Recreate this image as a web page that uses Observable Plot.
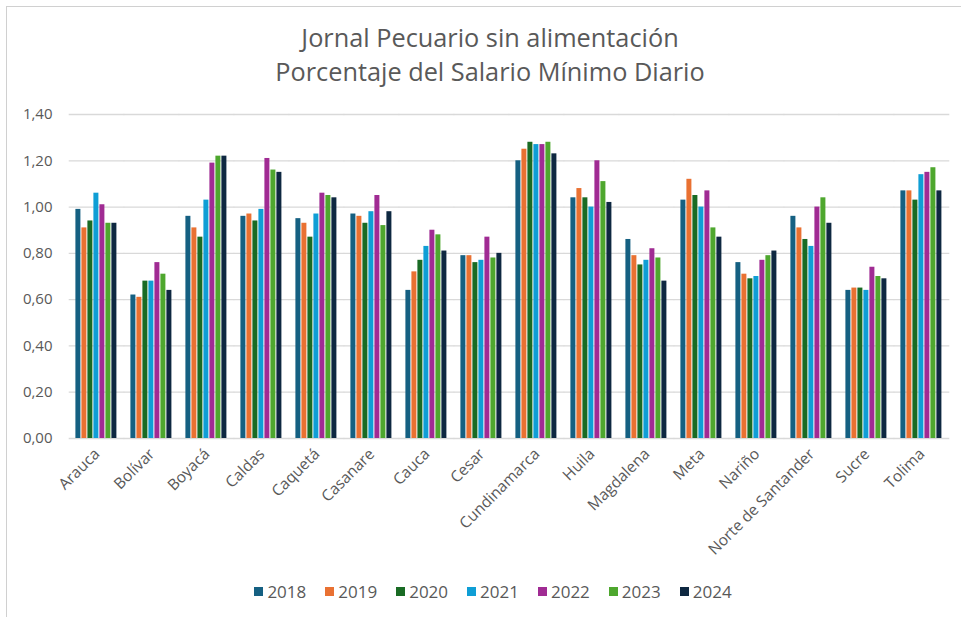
<!DOCTYPE html>
<html>
<head>
<meta charset="utf-8">
<script src="https://cdn.jsdelivr.net/npm/d3@7"></script>
<script src="https://cdn.jsdelivr.net/npm/@observablehq/plot@0.6"></script>
<style>
  html, body { margin: 0; padding: 0; background: #fff; }
  body { width: 961px; height: 617px; overflow: hidden; position: relative; font-family: "Open Sans", sans-serif; }
  #frame { position: absolute; left: 6px; top: 6px; width: 970px; height: 640px; border-left: 1.5px solid #d0d0d0; border-top: 1.5px solid #d0d0d0; }
  #title { position: absolute; left: 0; top: 20px; width: 980px; text-align: center; color: #595959; font-size: 25.3px; line-height: 34px; }
  #chart { position: absolute; left: 0; top: 95px; }
  #legend { position: absolute; left: 0; top: 580px; width: 986px; display: flex; justify-content: center; gap: 19px; color: #595959; font-size: 17px; }
  #legend span.item { display: inline-flex; align-items: center; }
  #legend span.sw { width: 9px; height: 9px; display: inline-block; margin-right: 4px; }
</style>
</head>
<body>
<div id="frame"></div>
<div id="title">Jornal Pecuario sin alimentación<br>Porcentaje del Salario Mínimo Diario</div>
<div id="chart"></div>
<div id="legend"></div>
<script>
const categories = ["Arauca","Bolívar","Boyacá","Caldas","Caquetá","Casanare","Cauca","Cesar","Cundinamarca","Huila","Magdalena","Meta","Nariño","Norte de Santander","Sucre","Tolima"];
const years = ["2018","2019","2020","2021","2022","2023","2024"];
const colors = ["#156082","#E97132","#196B24","#0F9ED5","#A02B93","#4EA72E","#0E2841"];
const yTicks = [0,0.2,0.4,0.6,0.8,1.0,1.2,1.4];
// values per category, one per year 2018..2024
const v2018 = [0.99,0.62,0.96,0.96,0.95,0.97,0.64,0.79,1.20,1.04,0.86,1.03,0.76,0.96,0.64,1.07];
const v2019 = [0.91,0.61,0.91,0.97,0.93,0.96,0.72,0.79,1.25,1.08,0.79,1.12,0.71,0.91,0.65,1.07];
const v2020 = [0.94,0.68,0.87,0.94,0.87,0.93,0.77,0.76,1.28,1.04,0.75,1.05,0.69,0.86,0.65,1.03];
const v2021 = [1.06,0.68,1.03,0.99,0.97,0.98,0.83,0.77,1.27,1.00,0.77,1.00,0.70,0.83,0.64,1.14];
const v2022 = [1.01,0.76,1.19,1.21,1.06,1.05,0.90,0.87,1.27,1.20,0.82,1.07,0.77,1.00,0.74,1.15];
const v2023 = [0.93,0.71,1.22,1.16,1.05,0.92,0.88,0.78,1.28,1.11,0.78,0.91,0.79,1.04,0.70,1.17];
const v2024 = [0.93,0.64,1.22,1.15,1.04,0.98,0.81,0.80,1.23,1.02,0.68,0.87,0.81,0.93,0.69,1.07];
const series = [v2018,v2019,v2020,v2021,v2022,v2023,v2024];

const data = [];
categories.forEach((c, i) => {
  years.forEach((y, j) => data.push({cat: c, year: y, value: series[j][i]}));
});

const fmt = d => d.toFixed(2).replace(".", ",");
const ink = "#595959";

const chart = Plot.plot({
  width: 961,
  height: 475,
  marginLeft: 67.6,
  marginRight: 10.6,
  marginTop: 19,
  marginBottom: 132,
  style: {fontFamily: "'Open Sans', sans-serif", fontSize: "14px", color: ink, background: "transparent"},
  fx: {domain: categories, padding: 0.19, label: null},
  x: {domain: years, paddingInner: 0.12, paddingOuter: 0, axis: null},
  y: {domain: [0, 1.4], label: null},
  color: {domain: years, range: colors},
  marks: [
    Plot.gridY(yTicks, {stroke: "#d9d9d9", strokeOpacity: 1, strokeWidth: 1.3, insetLeft: -5.3, insetRight: -5.3}),
    Plot.barY(data, {fx: "cat", x: "year", y: "value", fill: "year"}),
    Plot.axisY(yTicks, {tickSize: 0, tickPadding: 22, tickFormat: fmt, fill: ink, fontSize: 15, label: null}),
    Plot.axisFx({anchor: "bottom", tickSize: 0, tickRotate: -45, tickPadding: 13, fill: ink, fontSize: 15.5, label: null})
  ]
});
document.getElementById("chart").appendChild(chart);

const legend = document.getElementById("legend");
years.forEach((y, j) => {
  const item = document.createElement("span");
  item.className = "item";
  item.innerHTML = `<span class="sw" style="background:${colors[j]}"></span>${y}`;
  legend.appendChild(item);
});
</script>
</body>
</html>
